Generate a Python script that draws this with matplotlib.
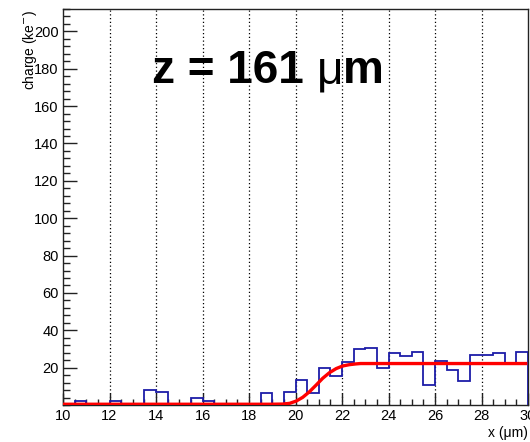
import matplotlib.pyplot as plt
import numpy as np
from matplotlib.ticker import MultipleLocator
from matplotlib.transforms import offset_copy

plt.rcParams["font.family"] = ["Liberation Sans", "DejaVu Sans"]

# measured charge per 0.5 um bin, x from 10 to 30 um
bin_edges = np.arange(10.0, 30.01, 0.5)
charge = [
    0, 2, 0, 0, 2, 0, 0, 8, 7, 0,
    0, 3.5, 2, 0, 0, 0, 0, 6.5, 0, 7,
    13.5, 6.5, 20, 15.5, 23, 30, 30.5, 20, 28, 26.5,
    28.5, 10.5, 23.5, 18.5, 13, 27, 27, 28, 22.5, 28.5,
]

# fitted edge profile
fit_x = [10.0, 18.9, 19.45, 19.75, 20.03, 20.31, 20.6, 20.89, 21.17,
         21.46, 21.75, 22.03, 22.32, 22.6, 22.8, 29.9]
fit_y = [0.4, 0.4, 0.5, 0.9, 2.1, 4.1, 7.1, 10.7, 14.3,
         17.3, 19.5, 20.9, 21.6, 22.0, 22.2, 22.2]

fig = plt.figure(figsize=(5.30, 4.42), dpi=100)
ax = fig.add_axes([63 / 530, 1 - 405 / 442, 465 / 530, 396 / 442])

ax.stairs(charge, bin_edges, color="#1c1ca8", linewidth=1.3, zorder=3)
ax.plot(fit_x, fit_y, color="#ff0000", linewidth=2.4, zorder=4)

ax.set_xlim(10, 30)
ax.set_ylim(0, 212)
ax.xaxis.set_major_locator(MultipleLocator(2))
ax.xaxis.set_minor_locator(MultipleLocator(0.5))
ax.yaxis.set_major_locator(MultipleLocator(20))
ax.yaxis.set_minor_locator(MultipleLocator(4))
ax.set_yticks(np.arange(20, 201, 20))

ax.tick_params(axis="both", which="both", direction="in", labelsize=10.5,
               color="#222222", width=1.0)
ax.tick_params(axis="x", which="major", length=8.5, pad=3)
ax.tick_params(axis="x", which="minor", length=4.3)
ax.tick_params(axis="y", which="major", length=10, pad=3)
ax.tick_params(axis="y", which="minor", length=5)

for x in range(12, 30, 2):
    ax.axvline(x, color="black", linewidth=0.9, linestyle=(0, (1, 2)), zorder=1)

for spine in ax.spines.values():
    spine.set_color("#222222")
    spine.set_linewidth(1.0)

# big label: bold text with a light-weight mu in between
renderer = fig.canvas.get_renderer()
x0, y0 = 152 / 530, 1 - 83 / 442
pieces = [("z = 161 ", "bold"), ("\u03bc", "normal"), ("m", "bold")]
trans = fig.transFigure
for text, weight in pieces:
    t = fig.text(x0, y0, text, fontsize=33, fontweight=weight,
                 ha="left", va="baseline", transform=trans)
    width = t.get_window_extent(renderer).width
    trans = offset_copy(trans, fig=fig, x=width, units="dots")

fig.text(30 / 530, 1 - 10 / 442, "charge (ke$^{-}$)", rotation=90,
         fontsize=10, ha="center", va="top")
fig.text(528 / 530, 1 - 440 / 442, "x (\u03bcm)", fontsize=10,
         ha="right", va="bottom")

fig.savefig("out.png", dpi=100)
